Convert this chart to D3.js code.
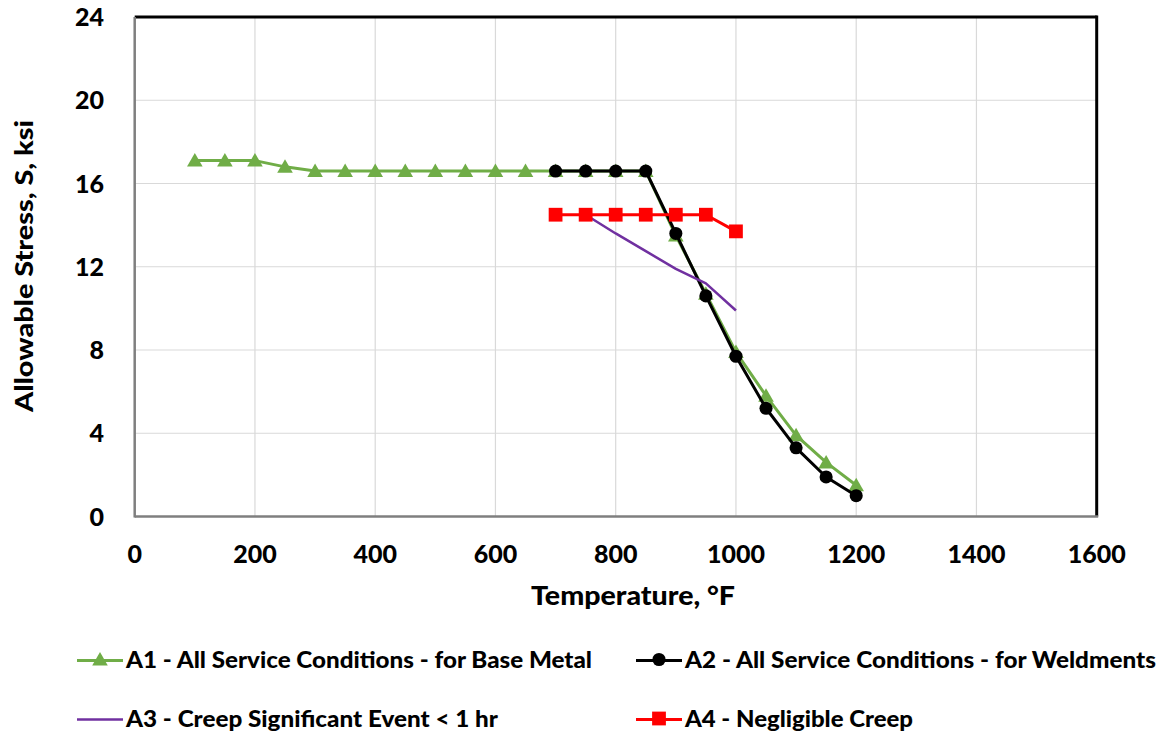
<!DOCTYPE html>
<html>
<head>
<meta charset="utf-8">
<script src="https://cdn.jsdelivr.net/npm/d3@7"></script>
<style>
  html, body { margin: 0; padding: 0; background: #fff; }
  svg { display: block; }
  text { font-family: Lato, "Open Sans", sans-serif; font-weight: 900; fill: #000; }
</style>
</head>
<body>
<svg id="chart" width="1163" height="734"></svg>
<script>
// Allowable stress vs. temperature
const a1Temps = [100, 150, 200, 250, 300, 350, 400, 450, 500, 550, 600, 650, 700, 750, 800, 850, 900, 950, 1000, 1050, 1100, 1150, 1200];
const a1Stress = [17.1, 17.1, 17.1, 16.8, 16.6, 16.6, 16.6, 16.6, 16.6, 16.6, 16.6, 16.6, 16.6, 16.6, 16.6, 16.6, 13.5, 10.7, 7.9, 5.8, 3.9, 2.6, 1.5];

const a2Temps = [700, 750, 800, 850, 900, 950, 1000, 1050, 1100, 1150, 1200];
const a2Stress = [16.6, 16.6, 16.6, 16.6, 13.6, 10.6, 7.7, 5.2, 3.3, 1.9, 1.0];

const a3Temps = [750, 800, 850, 900, 950, 1000];
const a3Stress = [14.5, 13.6, 12.75, 11.9, 11.2, 9.9];

const a4Temps = [700, 750, 800, 850, 900, 950, 1000];
const a4Stress = [14.5, 14.5, 14.5, 14.5, 14.5, 14.5, 13.7];

const xTicks = [0, 200, 400, 600, 800, 1000, 1200, 1400, 1600];
const yTicks = [0, 4, 8, 12, 16, 20, 24];

const seriesNames = [
  "A1 - All Service Conditions - for Base Metal",
  "A2 - All Service Conditions - for Weldments",
  "A3 - Creep Significant Event < 1 hr",
  "A4 - Negligible Creep"
];

const svg = d3.select("#chart");
const plot = { left: 134.7, right: 1096.7, top: 17, bottom: 516.5 };

const x = d3.scaleLinear().domain([0, 1600]).range([plot.left, plot.right]);
const y = d3.scaleLinear().domain([0, 24]).range([plot.bottom, plot.top]);

// gridlines
const grid = svg.append("g");
grid.selectAll("line.vg").data(xTicks.slice(1, -1)).enter().append("line")
  .attr("x1", d => x(d)).attr("x2", d => x(d))
  .attr("y1", plot.top).attr("y2", plot.bottom)
  .attr("stroke", "#d9d9d9").attr("stroke-width", 1.2);
grid.selectAll("line.hg").data(yTicks.slice(1, -1)).enter().append("line")
  .attr("y1", d => y(d)).attr("y2", d => y(d))
  .attr("x1", plot.left).attr("x2", plot.right)
  .attr("stroke", "#d9d9d9").attr("stroke-width", 1.2);

// frame: grey axis lines on left/bottom, black border top/right
svg.append("line").attr("x1", plot.left).attr("x2", plot.right).attr("y1", plot.top).attr("y2", plot.top)
  .attr("stroke", "#000").attr("stroke-width", 3);
svg.append("line").attr("x1", plot.right).attr("x2", plot.right).attr("y1", plot.top - 1.5).attr("y2", plot.bottom)
  .attr("stroke", "#000").attr("stroke-width", 3);
svg.append("line").attr("x1", plot.left).attr("x2", plot.left).attr("y1", plot.top).attr("y2", plot.bottom + 1)
  .attr("stroke", "#7f7f7f").attr("stroke-width", 2.5);
svg.append("line").attr("x1", plot.left).attr("x2", plot.right + 1.5).attr("y1", plot.bottom).attr("y2", plot.bottom)
  .attr("stroke", "#7f7f7f").attr("stroke-width", 2.5);

// tick labels
svg.append("g").selectAll("text").data(xTicks).enter().append("text")
  .attr("x", d => x(d)).attr("y", 563)
  .attr("text-anchor", "middle").attr("font-size", 25).text(d => d);
svg.append("g").selectAll("text").data(yTicks).enter().append("text")
  .attr("x", 104).attr("y", d => y(d) + 9)
  .attr("text-anchor", "end").attr("font-size", 25).text(d => d);

// axis titles
svg.append("text").attr("x", 633).attr("y", 605).attr("text-anchor", "middle")
  .attr("font-size", 26).attr("textLength", 204).attr("lengthAdjust", "spacingAndGlyphs")
  .text("Temperature, °F");
svg.append("text").attr("transform", "translate(33,266) rotate(-90)").attr("text-anchor", "middle")
  .attr("font-size", 25.5).attr("textLength", 292).attr("lengthAdjust", "spacingAndGlyphs")
  .text("Allowable Stress, S, ksi");

const line = d3.line().x(d => x(d[0])).y(d => y(d[1]));
const zip = (a, b) => a.map((v, i) => [v, b[i]]);

const triangle = d3.symbol().type(d3.symbolTriangle).size(105);
const circle = d3.symbol().type(d3.symbolCircle).size(135);
const square = d3.symbol().type(d3.symbolSquare).size(190);

const series = [
  { name: seriesNames[0], pts: zip(a1Temps, a1Stress), color: "#70ad47", width: 3, marker: triangle, dy: 1.5 },
  { name: seriesNames[1], pts: zip(a2Temps, a2Stress), color: "#000000", width: 3, marker: circle, dy: 0 },
  { name: seriesNames[2], pts: zip(a3Temps, a3Stress), color: "#7030a0", width: 2.5, marker: null, dy: 0 },
  { name: seriesNames[3], pts: zip(a4Temps, a4Stress), color: "#ff0000", width: 3, marker: square, dy: 0 }
];

series.forEach(s => {
  const g = svg.append("g");
  g.append("path").datum(s.pts).attr("d", line)
    .attr("fill", "none").attr("stroke", s.color).attr("stroke-width", s.width)
    .attr("stroke-linejoin", "round");
  if (s.marker) {
    g.selectAll("path.m").data(s.pts).enter().append("path")
      .attr("d", s.marker)
      .attr("transform", d => `translate(${x(d[0])},${y(d[1]) + s.dy})`)
      .attr("fill", s.color);
  }
});

// legend
const legendPos = [
  { lx: 77, ty: 668, tw: 466 },
  { lx: 636, ty: 668, tw: 471 },
  { lx: 77, ty: 727, tw: 372 },
  { lx: 636, ty: 727, tw: 228 }
];
series.forEach((s, i) => {
  const p = legendPos[i];
  const cy = p.ty - 7.5;
  const g = svg.append("g");
  g.append("line").attr("x1", p.lx).attr("x2", p.lx + 46).attr("y1", cy).attr("y2", cy)
    .attr("stroke", s.color).attr("stroke-width", s.width);
  if (s.marker) {
    g.append("path").attr("d", s.marker)
      .attr("transform", `translate(${p.lx + 23},${cy + s.dy - 1})`).attr("fill", s.color);
  }
  g.append("text").attr("x", p.lx + 49).attr("y", p.ty)
    .attr("font-size", 22).attr("textLength", p.tw).attr("lengthAdjust", "spacingAndGlyphs")
    .text(s.name);
});
</script>
</body>
</html>
